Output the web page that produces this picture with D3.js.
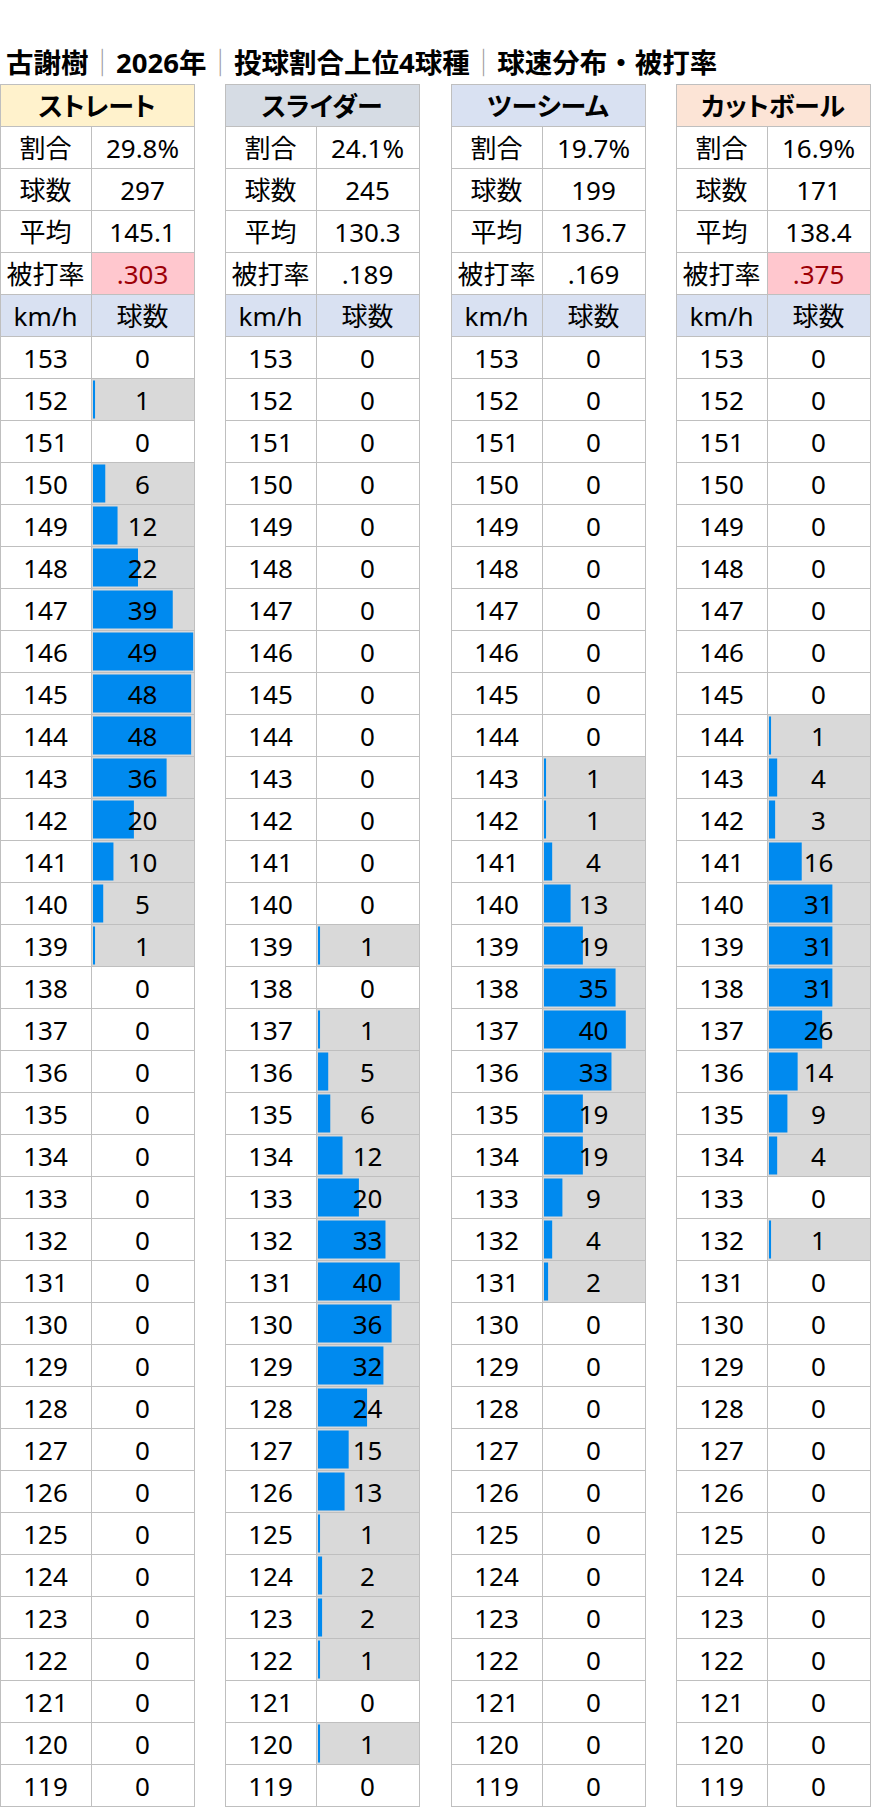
<!DOCTYPE html>
<html>
<head>
<meta charset="utf-8">
<script src="https://cdn.jsdelivr.net/npm/d3@7/dist/d3.min.js"></script>
<style>
  body { margin: 0; background: #fff; }
  svg text { font-family: "Noto Sans", "Noto Sans CJK JP", sans-serif; fill: #000; }
</style>
</head>
<body>
<script>
// pitch types (top 4 by share)
var pitches = ["ストレート", "スライダー", "ツーシーム", "カットボール"];
var shares  = ["29.8%", "24.1%", "19.7%", "16.9%"];
var totals  = [297, 245, 199, 171];
var avgSpeed = ["145.1", "130.3", "136.7", "138.4"];
var avgAgainst = [".303", ".189", ".169", ".375"];

// speed bins km/h
var speeds = [153,152,151,150,149,148,147,146,145,144,143,142,141,140,139,138,137,136,
              135,134,133,132,131,130,129,128,127,126,125,124,123,122,121,120,119];

var straight = [0,1,0,6,12,22,39,49,48,48,36,20,10,5,1,
                0,0,0,0,0,0,0,0,0,0,0,0,0,0,0,0,0,0,0,0];
var slider   = [0,0,0,0,0,0,0,0,0,0,0,0,0,0,
                1,0,1,5,6,12,20,33,40,36,32,24,15,13,1,2,2,1,0,1,0];
var twoSeam  = [0,0,0,0,0,0,0,0,0,0,
                1,1,4,13,19,35,40,33,19,19,9,4,2,
                0,0,0,0,0,0,0,0,0,0,0,0];
var cutter   = [0,0,0,0,0,0,0,0,0,
                1,4,3,16,31,31,31,26,14,9,4,0,1,
                0,0,0,0,0,0,0,0,0,0,0,0,0];
var counts = [straight, slider, twoSeam, cutter];

var headerFill = ["#fff2cc", "#d6dce4", "#d9e1f2", "#fce4d6"];

var width = 871, height = 1808;
var svg = d3.select("body").append("svg")
  .attr("width", width)
  .attr("height", height);

// title
var titleParts = ["古謝樹", "｜", "2026年", "｜", "投球割合上位4球種", "｜", "球速分布・被打率"];
var title = svg.append("text")
  .attr("x", 6)
  .attr("y", 73)
  .style("font-size", "27.5px")
  .style("font-weight", "700");
title.selectAll("tspan")
  .data(titleParts)
  .enter()
  .append("tspan")
  .text(function(d){ return d; })
  .style("fill", function(d){ return d == "｜" ? "#9a9a9a" : "#000"; })
  .style("font-weight", function(d){ return d == "｜" ? "300" : "700"; });

// layout scales
var xTable = d3.scaleBand()
  .domain(pitches)
  .range([0, 870])
  .paddingInner(0.138);

var rowKeys = ["head", "share", "total", "avg", "ba", "sub"].concat(speeds);
var yRow = d3.scaleBand()
  .domain(rowKeys)
  .range([84, 84 + rowKeys.length * 42]);

var labelW = 91;
var maxCount = d3.max(counts, function(c){ return d3.max(c); });
var barScale = d3.scaleLinear()
  .domain([0, maxCount])
  .range([0, xTable.bandwidth() - labelW - 3]);

var gridColor = "#bfbfbf";

var addCell = function(g, x, y, w, h, fill, txt, opts)
{
  opts = opts || {};
  g.append("rect")
    .attr("x", x + 0.5)
    .attr("y", y + 0.5)
    .attr("width", w)
    .attr("height", h)
    .attr("fill", fill)
    .attr("stroke", "none");
  if (opts.bar != null) {
    g.append("rect")
      .attr("x", x + 2)
      .attr("y", y + 2.5)
      .attr("width", Math.max(1.5, opts.bar))
      .attr("height", h - 4)
      .attr("fill", "#008aef");
  }
  g.append("rect")
    .attr("x", x + 0.5)
    .attr("y", y + 0.5)
    .attr("width", w)
    .attr("height", h)
    .attr("fill", "none")
    .attr("stroke", gridColor);
  g.append("text")
    .attr("x", x + w / 2)
    .attr("y", y + h / 2 + 1)
    .attr("text-anchor", "middle")
    .attr("dominant-baseline", "central")
    .style("font-size", opts.size || "26px")
    .style("font-weight", opts.weight || "400")
    .style("font-feature-settings", opts.palt ? "'palt'" : "normal")
    .style("fill", opts.color || "#000")
    .text(txt);
};

pitches.forEach(function(p, i)
{
  var g = svg.append("g");
  var x = Math.round(xTable(p));
  var w = Math.round(xTable.bandwidth());
  var h = yRow.bandwidth();
  var vw = w - labelW;

  addCell(g, x, yRow("head"), w, h, headerFill[i], p, {weight: "700", palt: true});

  var stats = [["share", "割合", shares[i]],
               ["total", "球数", totals[i]],
               ["avg", "平均", avgSpeed[i]],
               ["ba", "被打率", avgAgainst[i]]];
  stats.forEach(function(s)
  {
    addCell(g, x, yRow(s[0]), labelW, h, "#fff", s[1]);
    var hot = s[0] == "ba" && parseFloat(s[2]) >= 0.3;
    addCell(g, x + labelW, yRow(s[0]), vw, h, hot ? "#ffc7ce" : "#fff", s[2],
            {color: hot ? "#9c0006" : "#000"});
  });

  addCell(g, x, yRow("sub"), labelW, h, "#d9e1f2", "km/h");
  addCell(g, x + labelW, yRow("sub"), vw, h, "#d9e1f2", "球数");

  speeds.forEach(function(s, j)
  {
    var c = counts[i][j];
    addCell(g, x, yRow(s), labelW, h, "#fff", s);
    addCell(g, x + labelW, yRow(s), vw, h, c > 0 ? "#d9d9d9" : "#fff", c,
            {bar: c > 0 ? barScale(c) : null});
  });
});
</script>
</body>
</html>
